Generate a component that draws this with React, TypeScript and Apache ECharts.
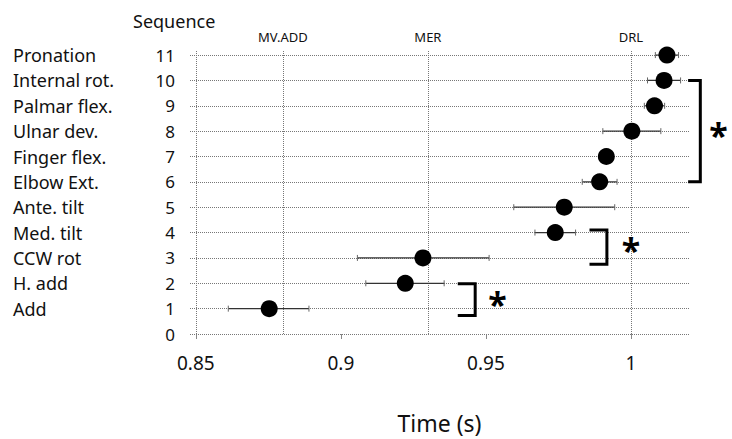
import React, { useEffect, useRef } from "react";
import * as echarts from "echarts";

// Data
const seqValues = [11, 10, 9, 8, 7, 6, 5, 4, 3, 2, 1];
const segmentNames = [
  "Pronation",
  "Internal rot.",
  "Palmar flex.",
  "Ulnar dev.",
  "Finger flex.",
  "Elbow Ext.",
  "Ante. tilt",
  "Med. tilt",
  "CCW rot",
  "H. add",
  "Add",
];
const meanTime = [1.0124, 1.0114, 1.0081, 1.0003, 0.9915, 0.9892, 0.977, 0.9739, 0.9283, 0.9222, 0.8753];
const lowTime = [1.0084, 1.0057, 1.0046, 0.9903, 0.9895, 0.9832, 0.9596, 0.9669, 0.9057, 0.9086, 0.8612];
const highTime = [1.0164, 1.0171, 1.0116, 1.0103, 0.9935, 0.9952, 0.9944, 0.9809, 0.9511, 0.9356, 0.889];
const xTickValues = [0.85, 0.9, 0.95, 1];
const gridRows = [0, 1, 2, 3, 4, 5, 6, 7, 8, 9, 10, 11];
const eventNames = ["", "MV.ADD", "MER", "DRL"];
const eventTimes = [0.85, 0.8755, 0.9339, 0.9985];
// brackets: [x0, x1, yTop, yBottom, starX, starY]
const brackets = [
  [1.0197, 1.0239, 10, 6, 1.0302, 7.85],
  [0.9857, 0.9917, 4.1, 2.75, 1.0, 3.3],
  [0.9403, 0.9463, 1.98, 0.73, 0.954, 1.2],
];

const FONT = "'Noto Sans', 'Open Sans', sans-serif";

export default function App() {
  const ref = useRef<HTMLDivElement>(null);
  useEffect(() => {
    if (!ref.current) return;
    const chart = echarts.init(ref.current, null, { renderer: "svg" });
    const nameBySeq: Record<number, string> = {};
    seqValues.forEach((s, i) => (nameBySeq[s] = segmentNames[i]));

    const option: any = {
      animation: false,
      backgroundColor: "#fff",
      textStyle: { fontFamily: FONT },
      grid: { left: 190, right: 43, top: 50, bottom: 101 },
      graphic: [
        {
          type: "text",
          left: 133,
          top: 12,
          style: { text: "Sequence", font: `18px ${FONT}`, fill: "#111" },
        },
      ],
      xAxis: {
        type: "value",
        min: 0.848,
        max: 1.02,
        name: "Time (s)",
        nameLocation: "middle",
        nameGap: 77,
        nameTextStyle: { fontSize: 23, color: "#111", fontFamily: FONT },
        axisLine: { show: false },
        axisTick: {
          show: true,
          customValues: xTickValues,
          length: 5,
          lineStyle: { color: "#888" },
        },
        axisLabel: {
          customValues: xTickValues,
          fontSize: 19,
          color: "#111",
          margin: 19,
          fontFamily: FONT,
          formatter: (v: number) => String(v),
        },
        splitLine: { show: false },
      },
      yAxis: {
        type: "value",
        min: 0,
        max: 11.2,
        interval: 1,
        axisLine: { show: false },
        axisTick: { show: false },
        splitLine: { show: false },
        axisLabel: {
          showMaxLabel: false,
          margin: 15,
          formatter: (v: number) => {
            if (Math.abs(v - Math.round(v)) > 1e-6) return "";
            const n = nameBySeq[v];
            return n ? `{n|${n}}{v|${v}}` : `{v|${v}}`;
          },
          rich: {
            n: { width: 138, align: "left", fontSize: 18, color: "#111", fontFamily: FONT },
            v: { width: 24, align: "right", fontSize: 17, color: "#111", fontFamily: FONT },
          },
        },
      },
      series: [
        {
          type: "custom",
          name: "err",
          z: 3,
          data: seqValues.map((s, i) => [lowTime[i], highTime[i], s]),
          renderItem: (params: any, api: any) => {
            const p1 = api.coord([api.value(0), api.value(2)]);
            const p2 = api.coord([api.value(1), api.value(2)]);
            const st = { stroke: "#333", lineWidth: 1.2 };
            return {
              type: "group",
              children: [
                { type: "line", shape: { x1: p1[0], y1: p1[1], x2: p2[0], y2: p2[1] }, style: st },
                { type: "line", shape: { x1: p1[0], y1: p1[1] - 3, x2: p1[0], y2: p1[1] + 3 }, style: { stroke: "#666", lineWidth: 1 } },
                { type: "line", shape: { x1: p2[0], y1: p2[1] - 3, x2: p2[0], y2: p2[1] + 3 }, style: { stroke: "#666", lineWidth: 1 } },
              ],
            };
          },
        },
        {
          type: "scatter",
          name: "mean",
          z: 5,
          symbol: "circle",
          symbolSize: 17,
          itemStyle: { color: "#000", opacity: 1 },
          data: seqValues.map((s, i) => [meanTime[i], s]),
          markLine: {
            silent: true,
            symbol: "none",
            z: 1,
            lineStyle: { color: "#777", type: "dotted", width: 1 },
            label: { show: false },
            data: [
              ...gridRows.map((r) => ({ yAxis: r, label: { show: false } })),
              ...eventTimes.map((t, i) => ({
                xAxis: t,
                label: {
                  show: !!eventNames[i],
                  position: "end",
                  formatter: eventNames[i],
                  fontSize: 13,
                  color: "#111",
                  fontFamily: FONT,
                  distance: 7,
                },
              })),
            ],
          },
        },
        {
          type: "custom",
          name: "brackets",
          z: 6,
          clip: false,
          data: brackets,
          renderItem: (params: any, api: any) => {
            const a = api.coord([api.value(0), api.value(2)]);
            const b = api.coord([api.value(1), api.value(2)]);
            const c = api.coord([api.value(1), api.value(3)]);
            const d = api.coord([api.value(0), api.value(3)]);
            const s = api.coord([api.value(4), api.value(5)]);
            return {
              type: "group",
              children: [
                {
                  type: "polyline",
                  shape: { points: [a, b, c, d] },
                  style: { stroke: "#000", lineWidth: 3, fill: "none" },
                },
                {
                  type: "text",
                  x: s[0],
                  y: s[1],
                  style: {
                    text: "*",
                    font: `bold 34px ${FONT}`,
                    fill: "#000",
                    align: "center",
                    verticalAlign: "middle",
                  },
                },
              ],
            };
          },
        },
      ],
    };
    chart.setOption(option);
    return () => chart.dispose();
  }, []);
  return (
    <div
      ref={ref}
      style={{ position: "absolute", left: 0, top: 0, width: 732, height: 439, background: "#fff" }}
    />
  );
}
